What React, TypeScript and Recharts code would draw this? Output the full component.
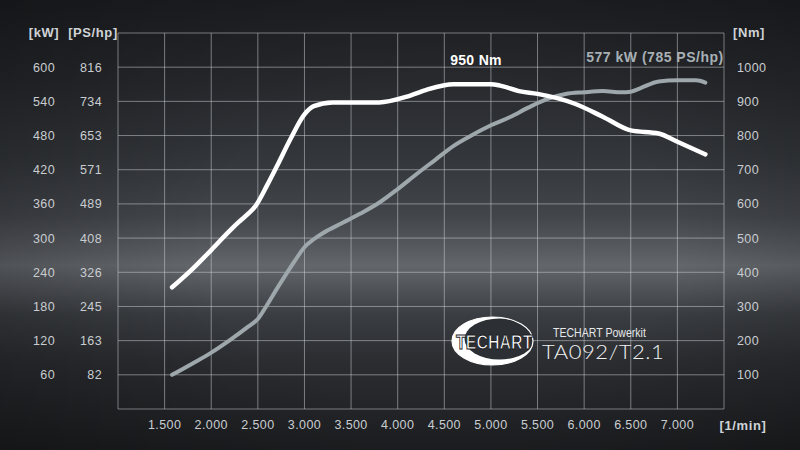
import React from 'react';
import { LineChart, Line, XAxis, YAxis, CartesianGrid } from 'recharts';

// ---------- axis ticks & labels ----------
const rpmTicks = [1000, 1500, 2000, 2500, 3000, 3500, 4000, 4500, 5000, 5500, 6000, 6500, 7000, 7500];
const rpmLabels = ['', '1.500', '2.000', '2.500', '3.000', '3.500', '4.000', '4.500', '5.000', '5.500', '6.000', '6.500', '7.000', ''];

const kwTicks = [0, 60, 120, 180, 240, 300, 360, 420, 480, 540, 600, 660];
const kwLabels = ['', '60', '120', '180', '240', '300', '360', '420', '480', '540', '600', ''];
const psLabels = ['', '82', '163', '245', '326', '408', '489', '571', '653', '734', '816', ''];

const nmTicks = [0, 100, 200, 300, 400, 500, 600, 700, 800, 900, 1000, 1100];
const nmLabels = ['', '100', '200', '300', '400', '500', '600', '700', '800', '900', '1000', ''];

// ---------- series ----------
const torqueRpm = [1580, 1800, 2000, 2200, 2300, 2400, 2470, 2600, 2700, 2850, 3000, 3100, 3300, 3800, 4100, 4300, 4600, 5000, 5100, 5300, 5500, 5700, 5900, 6200, 6500, 6800, 7000, 7300];
const torqueNm = [356, 410, 465, 522, 548, 572, 592, 655, 708, 790, 862, 886, 897, 897, 914, 933, 950, 950, 946, 930, 922, 910, 893, 855, 815, 806, 782, 745];

const powerRpm = [1580, 1800, 2000, 2200, 2400, 2500, 2600, 2700, 2800, 2900, 3000, 3100, 3200, 3400, 3600, 3800, 4000, 4200, 4400, 4600, 4800, 5000, 5200, 5400, 5600, 5800, 6000, 6200, 6400, 6500, 6600, 6800, 7000, 7200, 7300];
const powerKw = [60, 80, 99, 121, 145, 158, 183, 210, 236, 261, 284, 298, 309, 326, 343, 362, 386, 412, 437, 462, 481, 498, 512, 529, 544, 553, 556, 558, 556, 557, 563, 575, 577, 577, 573];

const torqueLabel = '950 Nm';
const powerLabel = '577 kW (785 PS/hp)';

const torqueData = torqueRpm.map((r, i) => ({ rpm: r, nm: torqueNm[i] }));
const powerData = powerRpm.map((r, i) => ({ rpm: r, kw: powerKw[i] }));

const FONT = '"Liberation Sans", Arial, sans-serif';
const TICK_FILL = '#c9cdd1';
const tickStyle = { fill: TICK_FILL, fontSize: 12.5, fontFamily: FONT, letterSpacing: 0.4 };

// left side: kW and PS/hp labels for the same gridline
const LeftTick = (props: any) => {
  const { y, payload } = props;
  const i = kwTicks.indexOf(payload.value);
  const kw = kwLabels[i];
  const ps = psLabels[i];
  if (!kw && !ps) return <g />;
  return (
    <g fontFamily={FONT} fontSize={12.5} fill={TICK_FILL} letterSpacing={0.4}>
      <text x={55} y={y} dy={4.5} textAnchor="end">{kw}</text>
      <text x={102} y={y} dy={4.5} textAnchor="end">{ps}</text>
    </g>
  );
};

export default function App() {
  return (
    <div
      style={{
        position: 'absolute',
        left: 0,
        top: 0,
        width: 800,
        height: 450,
        overflow: 'hidden',
        background:
          'linear-gradient(to bottom, #1f2125 0%, #282a2e 18%, #33363a 35%, #42454a 48%, #595c61 56%, #63676b 59%, #54575c 63%, #3a3d41 70%, #2b2d31 80%, #1d1e21 100%)',
      }}
    >
      <div
        style={{
          position: 'absolute',
          inset: 0,
          background:
            'radial-gradient(ellipse 75% 85% at 55% 55%, rgba(0,0,0,0) 40%, rgba(0,0,0,0.35) 100%)',
        }}
      />
      <div style={{ position: 'absolute', left: 0, top: 0 }}>
        <LineChart width={800} height={450} margin={{ top: 33, right: 0, bottom: 0, left: 0 }}>
          <CartesianGrid xAxisId="x" yAxisId="kw" stroke="rgba(210,214,218,0.5)" strokeWidth={1} />
          <XAxis
            xAxisId="x"
            dataKey="rpm"
            type="number"
            domain={[1000, 7500]}
            ticks={rpmTicks}
            interval={0}
            allowDataOverflow
            height={41}
            axisLine={false}
            tickLine={false}
            tickSize={0}
            tickMargin={11}
            tick={tickStyle}
            tickFormatter={(v: number) => rpmLabels[rpmTicks.indexOf(v)] ?? ''}
          />
          <YAxis
            yAxisId="kw"
            orientation="left"
            width={118}
            domain={[0, 660]}
            ticks={kwTicks}
            interval={0}
            axisLine={false}
            tickLine={false}
            tickSize={0}
            tick={<LeftTick />}
          />
          <YAxis
            yAxisId="nm"
            orientation="right"
            width={76}
            domain={[0, 1100]}
            ticks={nmTicks}
            interval={0}
            axisLine={false}
            tickLine={false}
            tickSize={0}
            tickMargin={13}
            tick={tickStyle}
            tickFormatter={(v: number) => nmLabels[nmTicks.indexOf(v)] ?? ''}
          />
          <Line
            xAxisId="x"
            yAxisId="kw"
            data={powerData}
            dataKey="kw"
            type="monotone"
            stroke="#9da7ac"
            strokeWidth={4}
            strokeLinecap="round"
            strokeLinejoin="round"
            dot={false}
            activeDot={false}
            isAnimationActive={false}
          />
          <Line
            xAxisId="x"
            yAxisId="nm"
            data={torqueData}
            dataKey="nm"
            type="monotone"
            stroke="#ffffff"
            strokeWidth={4.5}
            strokeLinecap="round"
            strokeLinejoin="round"
            dot={false}
            activeDot={false}
            isAnimationActive={false}
          />
        </LineChart>
      </div>
      <svg width={800} height={450} style={{ position: 'absolute', left: 0, top: 0, pointerEvents: 'none' }}>
        <defs>
          <clipPath id="logoClip">
            <ellipse cx={492.5} cy={341} rx={40.5} ry={24} />
          </clipPath>
        </defs>
        {/* axis headers */}
        <g fontFamily={FONT} fontWeight="bold" fontSize={13} fill="#cfd3d7" letterSpacing={0.6}>
          <text x={44} y={37} textAnchor="middle">[kW]</text>
          <text x={93} y={37} textAnchor="middle">[PS/hp]</text>
          <text x={749} y={37} textAnchor="middle">[Nm]</text>
          <text x={743} y={430} textAnchor="middle">[1/min]</text>
        </g>
        {/* peak annotations */}
        <text x={476} y={65} textAnchor="middle" fontFamily={FONT} fontWeight="bold" fontSize={14} fill="#ffffff" letterSpacing={0.3}>
          {torqueLabel}
        </text>
        <text x={655} y={62} textAnchor="middle" fontFamily={FONT} fontWeight="bold" fontSize={14} fill="#a7b0b5" letterSpacing={0.5}>
          {powerLabel}
        </text>
        {/* logo */}
        <ellipse cx={492.5} cy={341} rx={40.5} ry={24} fill="#ffffff" />
        <ellipse cx={499.5} cy={339} rx={35} ry={20.5} fill="#2c2f33" clipPath="url(#logoClip)" />
        <ellipse cx={492.5} cy={341} rx={40.5} ry={24} fill="none" stroke="#ffffff" strokeWidth={1.2} />
        <text
          transform="translate(456,349) scale(0.8,1)"
          fontFamily={FONT}
          fontWeight="bold"
          fontSize={20}
          fill="#ffffff"
          stroke="#1b1c1f"
          strokeWidth={1}
        >
          TECHART
        </text>
        <text transform="translate(553,337) scale(0.88,1)" fontFamily={FONT} fontSize={12} fill="#e6e8ea">
          TECHART Powerkit
        </text>
        <text transform="translate(542,359) scale(1.1,1)" fontFamily='Lato, "Liberation Sans", sans-serif' fontWeight={300} fontSize={20} fill="#f0f1f2" letterSpacing={0.5}>
          TA092/T2.1
        </text>
      </svg>
    </div>
  );
}
